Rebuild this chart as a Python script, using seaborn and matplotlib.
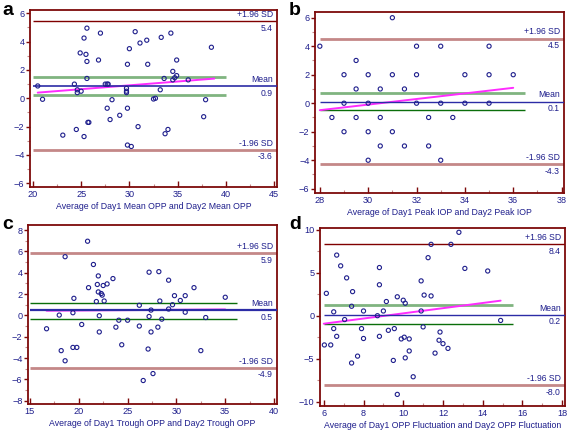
import numpy as np
import pandas as pd
import matplotlib
matplotlib.use("Agg")
import matplotlib.pyplot as plt
import matplotlib.transforms as mtransforms
from matplotlib.ticker import MultipleLocator, AutoMinorLocator
import seaborn as sns

sns.set_style("white")
plt.rcParams['font.family'] = ['Liberation Sans', 'DejaVu Sans']

# ---------------- data ----------------
a_x = [20.5, 21.0, 23.1, 24.3, 24.5, 24.6, 24.6, 24.9, 25.0, 25.3, 25.3, 25.5, 25.6, 25.6, 25.6, 25.7,
       25.8, 26.8, 27.0, 27.5, 27.7, 27.8, 27.7, 28.0, 28.2, 29.0, 29.7, 29.7, 29.7, 29.8, 29.8, 29.8,
       30.2, 30.0, 30.6, 30.9, 31.1, 31.8, 31.9, 32.5, 32.7, 33.2, 33.3, 33.6, 33.7, 34.0, 34.3, 34.5,
       34.5, 34.7, 34.9, 34.9, 36.1, 37.7, 37.9, 38.5]
a_y = [0.87, -0.07, -2.6, 1.0, -2.2, 0.4, 0.6, 3.2, 0.5, 4.25, -2.7, 3.1, 2.6, 4.95, 1.4, -1.7,
       -1.7, 2.7, 4.6, 1.0, 1.0, 1.0, -0.7, -1.5, -0.1, -1.2, 0.7, 0.5, 0.4, 2.4, -0.7, -3.3,
       -3.4, 3.5, 4.7, -2.0, 3.9, 4.1, 2.4, -0.05, 0.0, 0.6, 4.3, 1.4, -2.5, -2.2, 4.6, 1.9,
       1.3, 1.45, 2.7, 1.6, 1.3, -1.3, -0.1, 3.6]

b_x = [28, 28.5, 29, 29, 29, 29.5, 29.5, 29.5, 30, 30, 30, 30, 30.5, 30.5, 30.5, 31, 31, 31,
       31.5, 31.5, 32, 32, 32, 32.5, 32.5, 33, 33, 33, 33.5, 34, 34, 35, 35, 35, 36]
b_y = [4, -1, 2, 0, -2, 3, 1, -1, 2, 0, -2, -4, 1, -1, -3, 6, 2, -2,
       1, -3, 4, 2, 0, -1, -3, 4, 0, -4, -1, 2, 0, 4, 2, 0, 2]

c_x = [16.7, 18.0, 18.2, 18.6, 18.6, 19.4, 19.4, 19.5, 19.8, 20.3, 20.9, 21.0, 21.5, 21.8, 21.9,
       22.0, 22.0, 22.1, 22.1, 22.3, 22.4, 22.5, 22.6, 22.9, 23.5, 23.8, 24.1, 24.4, 25.0, 26.2,
       26.2, 26.6, 27.1, 27.2, 27.2, 27.4, 27.4, 27.6, 28.1, 28.2, 28.3, 28.5, 29.2, 29.2, 29.6,
       29.8, 30.4, 30.9, 30.9, 31.8, 32.5, 33.0, 35.0]
c_y = [-1.25, 0.03, -3.3, 5.5, -4.25, 0.25, -3.0, 1.6, -3.0, -0.85, 6.95, 2.6, 4.77, 1.3, 2.9,
       3.7, 2.2, -0.03, -1.55, 2.05, 1.9, 2.8, 1.35, 2.95, 3.45, -1.1, -0.45, -2.75, -0.45, 0.95,
       -1.0, -6.1, -3.15, -0.1, 4.05, 0.5, -1.55, -5.45, -1.1, 4.1, 1.35, -0.35, 3.3, 0.6, 1.0,
       1.85, 1.4, 1.85, 0.3, 2.6, -3.3, -0.2, 1.7]

d_x = [6.03, 6.13, 6.35, 6.5, 6.5, 6.65, 6.65, 6.85, 7.05, 7.15, 7.4, 7.4, 7.45, 7.7, 7.9, 8.0,
       8.0, 8.7, 8.8, 8.8, 8.8, 9.0, 9.15, 9.25, 9.7, 9.55, 9.5, 9.7, 9.9, 10.0, 10.05, 10.1,
       10.1, 10.3, 10.3, 10.5, 10.9, 10.9, 11.0, 11.05, 11.25, 11.4, 11.4, 11.6, 11.8, 11.85,
       12.0, 12.25, 12.4, 12.8, 13.1, 14.25, 14.9]
d_y = [-3.4, 2.6, -3.4, 0.45, -1.5, -2.4, 7.05, 5.8, -0.45, 4.4, -5.5, 1.1, 2.8, -4.7, -1.5, 0.55,
       -2.65, 0.0, 5.6, 3.6, -2.4, 0.55, 1.65, -1.7, 2.2, -1.5, -5.2, -9.15, -2.7, 1.8, -2.5, 1.45,
       -4.9, -2.7, -4.1, -7.1, 0.55, 4.05, -1.3, 2.4, 6.75, 2.3, 8.3, -4.35, -2.85, -1.9,
       -3.25, -3.8, 8.3, 9.7, 5.5, 5.2, -0.55]

# limits of agreement, mean, CI of mean
upper_sd = [5.4, 4.5, 5.9, 8.4]
mean_diff = [0.9, 0.1, 0.5, 0.2]
lower_sd = [-3.6, -4.3, -4.9, -8.0]
upper_line_y = [5.45, 4.54, 5.86, 8.3]
mean_line_y = [0.87, 0.12, 0.47, 0.12]
lower_line_y = [-3.62, -4.3, -4.9, -8.05]
ci_upper = [1.53, 0.75, 1.19, 1.25]
ci_lower = [0.26, -0.47, -0.3, -1.0]
ci_xmax = [40.0, 36.5, 36.2, 15.5]

# regression lines (start, end)
reg_x = [[20.5, 38.8], [28.0, 36.0], [16.7, 35.0], [6.0, 14.9]]
reg_y = [[0.4, 1.39], [-0.49, 1.08], [0.44, 0.56], [-0.93, 1.75]]

x_labels = ["Average of Day1 Mean OPP and Day2 Mean OPP",
            "Average of Day1 Peak IOP and Day2 Peak IOP",
            "Average of Day1 Trough OPP and Day2 Trough OPP",
            "Average of Day1 OPP Fluctuation and Day2 OPP Fluctuation"]
panel_letters = ["a", "b", "c", "d"]

# ---------------- style ----------------
NAVY = "#1e1e8c"
MAROON = "#7d0a0a"
DARKRED = "#800000"
LIGHTRED = "#c48888"
BLUE = "#2c2ca6"
LIGHTGREEN = "#80b480"
DARKGREEN = "#0a6e0a"
MAGENTA = "#ff2cff"

xlims = [(19.7, 45.3), (27.8, 38.1), (14.8, 40.3), (5.81, 18.14)]
ylims = [(-6.26, 6.23), (-6.3, 6.4), (-8.3, 8.47), (-10.5, 10.2)]
x_major = [5, 2, 5, 2]
y_major = [2, 2, 2, 5]
x_start = [20, 28, 15, 6]
upper_style = [(DARKRED, 1.0), (LIGHTRED, 2.0), (LIGHTRED, 2.0), (DARKRED, 1.0)]
lower_style = [(LIGHTRED, 2.0), (LIGHTRED, 2.0), (LIGHTRED, 2.0), (LIGHTRED, 2.0)]
ciu_style = [(LIGHTGREEN, 2.0), (LIGHTGREEN, 2.0), (DARKGREEN, 1.0), (LIGHTGREEN, 2.0)]
cil_style = [(LIGHTGREEN, 2.0), (DARKGREEN, 1.0), (DARKGREEN, 1.0), (DARKGREEN, 1.0)]
mean_lw = [1.2, 1.0, 1.6, 1.0]

positions = [
    [30 / 567, 1 - 187 / 432, 247 / 567, 177 / 432],
    [315 / 567, 1 - 193 / 432, 249 / 567, 181 / 432],
    [28 / 567, 1 - 404 / 432, 249 / 567, 179 / 432],
    [320 / 567, 1 - 406 / 432, 245 / 567, 178 / 432],
]
letter_pos = [(2 / 567, 1 - 2 / 432), (289 / 567, 1 - 2 / 432),
              (2 / 567, 1 - 216 / 432), (289 / 567, 1 - 216 / 432)]

fig = plt.figure(figsize=(5.67, 4.32), dpi=100)
fig.patch.set_facecolor("white")

xs = [a_x, b_x, c_x, d_x]
ys = [a_y, b_y, c_y, d_y]

for i in range(4):
    ax = fig.add_axes(positions[i])
    ax.set_facecolor("white")
    x0, x1 = xlims[i]
    ax.set_xlim(x0, x1)
    ax.set_ylim(*ylims[i])

    ax.hlines(lower_line_y[i], x_start[i], x1, color=lower_style[i][0], lw=lower_style[i][1], zorder=2)
    ax.hlines(upper_line_y[i], x_start[i], x1, color=upper_style[i][0], lw=upper_style[i][1], zorder=2)
    ax.hlines(ci_upper[i], x_start[i], ci_xmax[i], color=ciu_style[i][0], lw=ciu_style[i][1], zorder=2)
    ax.hlines(ci_lower[i], x_start[i], ci_xmax[i], color=cil_style[i][0], lw=cil_style[i][1], zorder=2)

    sns.lineplot(x=reg_x[i], y=reg_y[i], ax=ax, color=MAGENTA, lw=1.4, zorder=3)
    ax.hlines(mean_line_y[i], x_start[i], x1, color=BLUE, lw=mean_lw[i], zorder=4)

    df = pd.DataFrame({"avg": xs[i], "diff": ys[i]})
    sns.scatterplot(data=df, x="avg", y="diff", ax=ax, marker="o", s=9,
                    facecolor="none", edgecolor=NAVY, linewidth=0.8, zorder=5)

    tr = mtransforms.blended_transform_factory(ax.transAxes, ax.transData)
    for val, yl, name in [(upper_sd[i], upper_line_y[i], "+1.96 SD"),
                          (mean_diff[i], mean_line_y[i], "Mean"),
                          (lower_sd[i], lower_line_y[i], "-1.96 SD")]:
        ax.annotate(name, xy=(1, yl), xycoords=tr, xytext=(-3, 1.5), textcoords="offset points",
                    ha="right", va="bottom", fontsize=6.2, color=NAVY, zorder=6)
        ax.annotate(f"{val:.1f}", xy=(1, yl), xycoords=tr, xytext=(-3, -2), textcoords="offset points",
                    ha="right", va="top", fontsize=6.2, color=NAVY, zorder=6)

    for sp in ax.spines.values():
        sp.set_color(MAROON)
        sp.set_linewidth(1.3)
        sp.set_visible(True)
    ax.xaxis.set_major_locator(MultipleLocator(x_major[i]))
    ax.yaxis.set_major_locator(MultipleLocator(y_major[i]))
    ax.xaxis.set_minor_locator(AutoMinorLocator(2))
    ax.yaxis.set_minor_locator(AutoMinorLocator(2))
    ax.tick_params(axis="x", which="major", direction="in", length=4, width=1, color=MAROON,
                   labelcolor=NAVY, labelsize=6.6, pad=2, bottom=True)
    ax.tick_params(axis="x", which="minor", direction="in", length=2, width=0.8, color=LIGHTRED, bottom=True)
    ax.tick_params(axis="y", which="major", direction="out", length=3, width=1, color=MAROON,
                   labelcolor=NAVY, labelsize=6.6, pad=1, left=True)
    ax.tick_params(axis="y", which="minor", direction="out", length=2, width=0.8, color=LIGHTRED, left=True)
    ax.set_xlabel(x_labels[i], fontsize=6.3, color=NAVY, labelpad=2.5)
    ax.set_ylabel("")
    ax.grid(False)

    fig.text(letter_pos[i][0], letter_pos[i][1], panel_letters[i], fontsize=14, fontweight="bold",
             color="black", ha="left", va="top")

fig.savefig("out.png", dpi=100, facecolor="white")
